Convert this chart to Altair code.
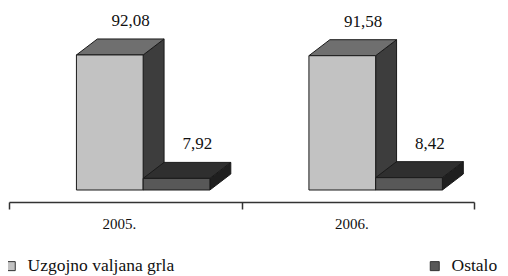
import altair as alt
import pandas as pd

# ---- data ----
years = ["2005.", "2006."]
series = ["Uzgojno valjana grla", "Ostalo"]
values_uzgojno = [92.08, 91.58]
values_ostalo = [7.92, 8.42]

# ---- layout / style constants (scale units) ----
BAR_START = 0.29      # offset of first bar inside a year band
BAR_W = 0.287         # bar width
DEPTH_X = 0.09        # 3-D depth, x units
DEPTH_Y = 10.9        # 3-D depth, y units
Y_MAX = 124.1

FRONT = ["#c2c2c2", "#585858"]
TOP = ["#6f6f6f", "#2f2f2f"]
SIDE = ["#3d3d3d", "#1f1f1f"]
EDGE = "#1a1a1a"
SERIF = "Liberation Serif, Times New Roman, serif"

rows, tops, sides = [], [], []
for gi, year in enumerate(years):
    for si, (name, vals) in enumerate(zip(series, [values_uzgojno, values_ostalo])):
        v = vals[gi]
        x0 = gi + BAR_START + si * BAR_W
        x1 = x0 + BAR_W
        bid = f"{gi}-{si}"
        rows.append(dict(bar=bid, year=year, series=name, value=v, x0=x0, x1=x1,
                         xl=(x0 + x1) / 2 + DEPTH_X, yl=v + DEPTH_Y,
                         label=f"{v:.2f}".replace(".", ",")))
        for k in (0, 1):
            tops.append(dict(bar=bid, series=name, y=v + k * DEPTH_Y,
                             xa=x0 + k * DEPTH_X, xb=x1 + k * DEPTH_X))
            sides.append(dict(bar=bid, series=name, x=x1 + k * DEPTH_X,
                              ya=v + k * DEPTH_Y, yb=k * DEPTH_Y))
bars = pd.DataFrame(rows)
top_df = pd.DataFrame(tops)
side_df = pd.DataFrame(sides)
cat_df = pd.DataFrame(dict(year=years, xc=[i + 0.5 for i in range(len(years))]))

xscale = alt.Scale(domain=[0, len(years)], nice=False, zero=False)
yscale = alt.Scale(domain=[0, Y_MAX], nice=False, zero=True)
xaxis = alt.Axis(values=list(range(len(years) + 1)), labels=False, title=None, offset=12,
                 tickSize=7, tickWidth=1.5, tickColor="#333",
                 domainColor="#333", domainWidth=1.5, grid=False)

side = alt.Chart(side_df).mark_area(orient="vertical", stroke=EDGE, strokeWidth=1).encode(
    x=alt.X("x:Q", scale=xscale, axis=xaxis),
    y=alt.Y("ya:Q", scale=yscale, axis=None, stack=None),
    y2="yb:Q",
    detail="bar:N",
    color=alt.Color("series:N", scale=alt.Scale(domain=series, range=SIDE), legend=None),
)

top = alt.Chart(top_df).mark_area(orient="horizontal", stroke=EDGE, strokeWidth=1).encode(
    y=alt.Y("y:Q", scale=yscale, axis=None),
    x=alt.X("xa:Q", scale=xscale, axis=xaxis, stack=None),
    x2="xb:Q",
    detail="bar:N",
    color=alt.Color("series:N", scale=alt.Scale(domain=series, range=TOP), legend=None),
)

front = alt.Chart(bars).mark_rect(stroke=EDGE, strokeWidth=1).encode(
    x=alt.X("x0:Q", scale=xscale, axis=xaxis),
    x2="x1:Q",
    y=alt.Y("value:Q", scale=yscale, axis=None),
    y2=alt.datum(0),
    color=alt.Color("series:N", scale=alt.Scale(domain=series, range=FRONT),
                    legend=alt.Legend(title=None, orient="none", legendX=-7, legendY=249,
                                      direction="horizontal", columns=2, columnPadding=251,
                                      padding=0, symbolType="square", symbolSize=81,
                                      symbolStrokeColor="#333", symbolStrokeWidth=1,
                                      labelFont=SERIF, labelFontSize=17.5,
                                      labelColor="#111", labelOffset=8, labelLimit=0)),
)

labels = alt.Chart(bars).mark_text(font=SERIF, fontSize=17, color="#111",
                                   baseline="alphabetic", dy=-13).encode(
    x=alt.X("xl:Q", scale=xscale, axis=xaxis),
    y=alt.Y("yl:Q", scale=yscale, axis=None),
    text="label:N",
)

cats = alt.Chart(cat_df).mark_text(font=SERIF, fontSize=15, color="#111",
                                   baseline="alphabetic", dx=-6).encode(
    x=alt.X("xc:Q", scale=xscale, axis=xaxis),
    y=alt.value(221),
    text="year:N",
)

chart = alt.layer(side, top, front, labels, cats).resolve_scale(color="independent").properties(
    width=465, height=182,
    background="white",
    autosize=alt.AutoSizeParams(type="none"),
    padding={"left": 1, "top": 0, "right": 26, "bottom": 86},
).configure_view(stroke=None)

chart.save("out.html", embed_options={"renderer": "svg", "actions": False})
